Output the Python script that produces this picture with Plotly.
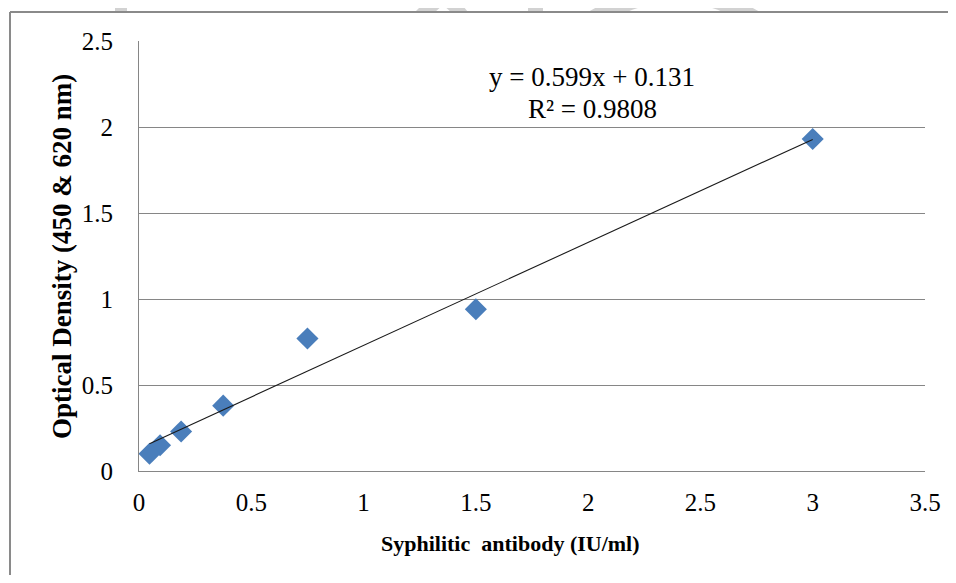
import plotly.graph_objects as go

# ---------------- data ----------------
antibody_iu_ml = [3.0, 1.5, 0.75, 0.375, 0.1875, 0.09375, 0.046875]
optical_density = [1.93, 0.94, 0.77, 0.38, 0.23, 0.15, 0.10]

trend_slope = 0.599
trend_intercept = 0.131
r_squared = 0.9808

x_tick_vals = [0, 0.5, 1, 1.5, 2, 2.5, 3, 3.5]
x_tick_text = ["0", "0.5", "1", "1.5", "2", "2.5", "3", "3.5"]
y_tick_vals = [0, 0.5, 1, 1.5, 2, 2.5]
y_tick_text = ["0", "0.5", "1", "1.5", "2", "2.5"]

x_title = "Syphilitic  antibody (IU/ml)"
y_title = "Optical Density (450 &amp; 620 nm)"

# ---------------- layout helpers ----------------
# The page body has an 8px default margin on every side, so the figure is made
# smaller to fit the window and the margins are shifted by 8px so the plot area
# lands where the reference has it.
OFF = 8
W, H = 956 - 2 * OFF, 583 - 2 * OFF
PLOT_LEFT, PLOT_RIGHT, PLOT_TOP, PLOT_BOTTOM = 139, 925, 41, 471   # screen pixels
L, T = PLOT_LEFT - OFF, PLOT_TOP - OFF
R = W - (PLOT_RIGHT - OFF)
B = H - (PLOT_BOTTOM - OFF)
PW, PH = PLOT_RIGHT - PLOT_LEFT, PLOT_BOTTOM - PLOT_TOP


def px(x, y):
    """screen pixel -> paper coordinates (for decorations only)"""
    return (x - PLOT_LEFT) / PW, (PLOT_BOTTOM - y) / PH


def path(points, close=True):
    s = ""
    for i, (x, y) in enumerate(points):
        X, Y = px(x, y)
        s += ("M" if i == 0 else "L") + f"{X:.5f},{Y:.5f} "
    return s + ("Z" if close else "")


def qpath(p0, c, p1):
    a = px(*p0); b = px(*c); d = px(*p1)
    return f"M{a[0]:.5f},{a[1]:.5f} Q{b[0]:.5f},{b[1]:.5f} {d[0]:.5f},{d[1]:.5f} Z"


FONT = "Liberation Serif, Times New Roman, serif"
GRID = "#868686"
BLUE = "#4A7EBB"

fig = go.Figure()

fig.add_trace(go.Scatter(
    x=antibody_iu_ml, y=optical_density, mode="markers",
    marker=dict(symbol="diamond", size=17, color=BLUE, line=dict(width=0)),
    showlegend=False, hoverinfo="x+y",
))

x_lo, x_hi = min(antibody_iu_ml), max(antibody_iu_ml)
fig.add_trace(go.Scatter(
    x=[x_lo, x_hi],
    y=[trend_slope * x_lo + trend_intercept, trend_slope * x_hi + trend_intercept],
    mode="lines", line=dict(color="#1a1a1a", width=1.1),
    showlegend=False, hoverinfo="skip",
))

wm = "#d2d2d2"
P = dict(xref="paper", yref="paper", layer="below")
shapes = [
    # faint watermark fragments above the frame
    dict(type="path", path=path([(115, 0), (127, 0), (127, 12), (115, 12)]), fillcolor=wm, line_width=0, **P),
    dict(type="path", path=path([(415, 12), (427, 0), (458, 0), (468, 12), (451, 12), (443, 5), (435, 12)]), fillcolor=wm, line_width=0, **P),
    dict(type="path", path=path([(528, 0), (543, 0), (543, 12), (528, 12)]), fillcolor=wm, line_width=0, **P),
    dict(type="path", path=qpath((588, 12), (674, -38), (760, 12)), fillcolor=wm, line_width=0, **P),
    dict(type="path", path=qpath((627, 12), (675, -8), (723, 12)), fillcolor="white", line_width=0, **P),
    # outer chart frame (top and left edges)
    dict(type="line", x0=px(10, 0)[0], x1=px(948, 0)[0], y0=px(0, 12)[1], y1=px(0, 12)[1],
         line=dict(color="#8a8a8a", width=2), **P),
    dict(type="line", x0=px(10, 0)[0], x1=px(10, 0)[0], y0=px(0, 12)[1], y1=px(0, 583)[1],
         line=dict(color="#8a8a8a", width=2), **P),
]

annotations = [
    dict(x=px(592, 0)[0], y=px(0, 77)[1], xref="paper", yref="paper",
         text=f"y = {trend_slope}x + {trend_intercept}", showarrow=False,
         font=dict(family=FONT, size=27, color="black"), xanchor="center", yanchor="middle"),
    dict(x=px(592, 0)[0], y=px(0, 109)[1], xref="paper", yref="paper",
         text=f"R² = {r_squared}", showarrow=False,
         font=dict(family=FONT, size=27, color="black"), xanchor="center", yanchor="middle"),
    dict(x=px(510, 0)[0], y=px(0, 543)[1], xref="paper", yref="paper",
         text=f"<b>{x_title}</b>", showarrow=False,
         font=dict(family=FONT, size=22, color="black"), xanchor="center", yanchor="middle"),
    dict(x=px(62, 0)[0], y=px(0, 257)[1], xref="paper", yref="paper",
         text=f"<b>{y_title}</b>", showarrow=False, textangle=-90,
         font=dict(family=FONT, size=27, color="black"), xanchor="center", yanchor="middle"),
]

fig.update_layout(
    width=W, height=H,
    margin=dict(l=L, r=R, t=T, b=B, autoexpand=False),
    paper_bgcolor="white", plot_bgcolor="white",
    font=dict(family=FONT, color="black"),
    shapes=shapes, annotations=annotations,
    xaxis=dict(range=[0, 3.5], tickvals=x_tick_vals, ticktext=x_tick_text,
               showgrid=False, zeroline=False, showline=True, linecolor=GRID, linewidth=1,
               ticks="", ticklabelstandoff=9, tickfont=dict(family=FONT, size=25, color="black")),
    yaxis=dict(range=[0, 2.5], tickvals=y_tick_vals, ticktext=y_tick_text,
               showgrid=True, gridcolor=GRID, gridwidth=1, zeroline=False,
               showline=True, linecolor=GRID, linewidth=1,
               ticks="", ticklabelstandoff=20, tickfont=dict(family=FONT, size=25, color="black")),
    hovermode="closest",
)

fig.write_html("out.html", config={"displayModeBar": False})
